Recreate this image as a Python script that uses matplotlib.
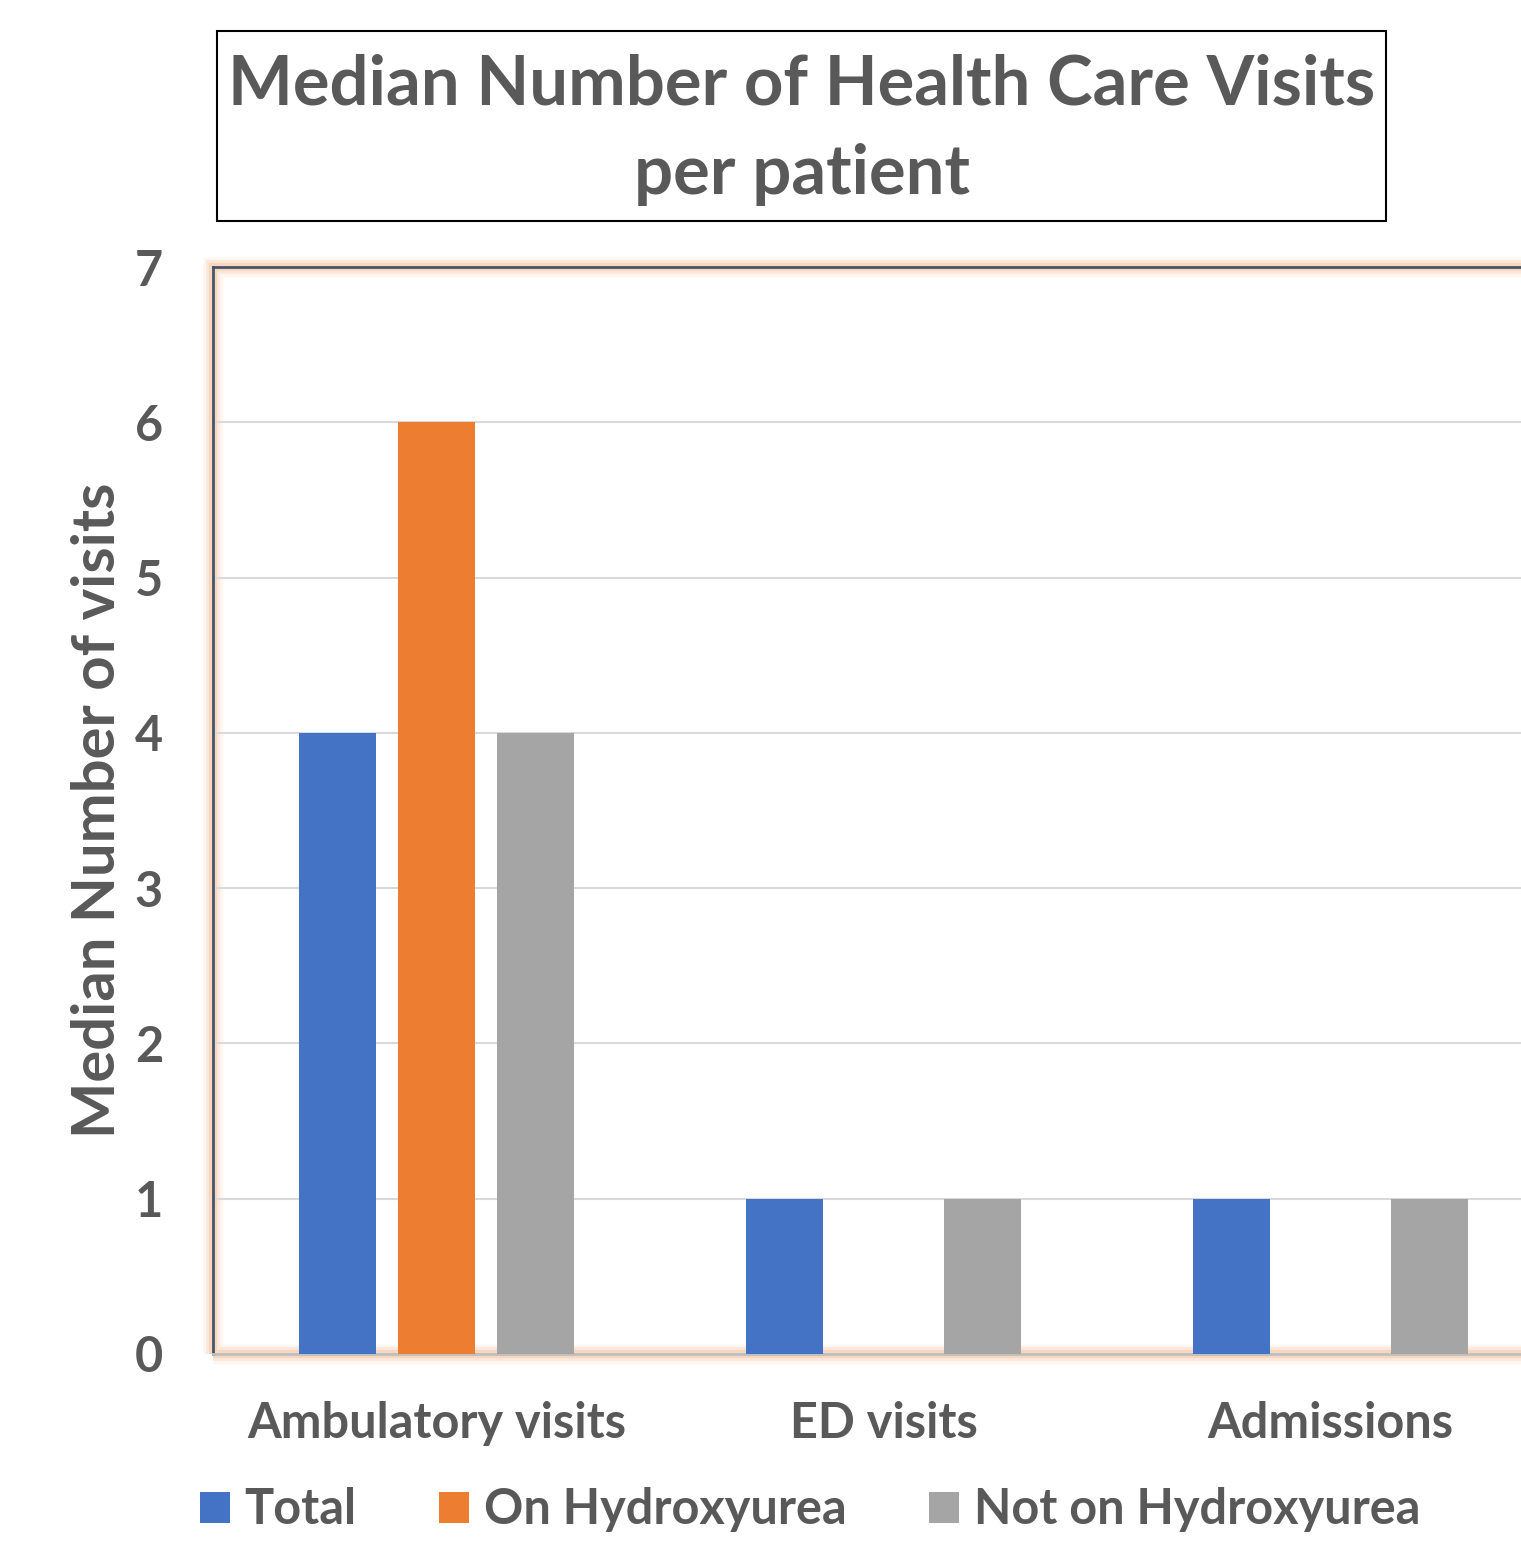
import matplotlib
matplotlib.use("Agg")
import matplotlib.pyplot as plt
import numpy as np
from matplotlib.patches import Rectangle

categories = ["Ambulatory visits", "ED visits", "Admissions"]
series_names = ["Total", "On Hydroxyurea", "Not on Hydroxyurea"]
total = [4, 1, 1]
on_hu = [6, 0, 0]
not_hu = [4, 1, 1]
yticks = [0, 1, 2, 3, 4, 5, 6, 7]

colors = ["#4472C4", "#ED7D31", "#A5A5A5"]
txt = "#595959"
plt.rcParams['font.family'] = ['Lato', 'DejaVu Sans']

fig = plt.figure(figsize=(15.21, 15.45), dpi=100)
ax = fig.add_axes([213/1521, 1-1354/1545, 1341/1521, (1354-267)/1545])

x = np.arange(len(categories))
w = 0.173
off = 0.221
for i, (vals, c, n) in enumerate(zip([total, on_hu, not_hu], colors, series_names)):
    ax.bar(x + (i-1)*off, vals, w, color=c, label=n, zorder=3)

ax.set_xlim(-0.5, 2.5)
ax.set_ylim(0, 7)
ax.set_yticks(yticks)
ax.set_yticklabels([str(t) for t in yticks], fontsize=35, fontweight='bold', color=txt)
ax.set_xticks(x)
ax.set_xticklabels(categories, fontsize=35, fontweight='bold', color=txt)
ax.tick_params(axis='both', length=0)
ax.tick_params(axis='y', pad=36)
ax.tick_params(axis='x', pad=34)
ax.yaxis.grid(True, color="#d9d9d9", linewidth=1.5, zorder=0)
ax.set_axisbelow(True)

for s in ['top', 'left']:
    ax.spines[s].set_color("#44546a")
    ax.spines[s].set_linewidth(2)
ax.spines['right'].set_visible(False)
ax.spines['bottom'].set_color("#bfbfbf")
ax.spines['bottom'].set_linewidth(2)

# orange glow around plot area
for lw, a in [(14, 0.12), (10, 0.18), (6, 0.3)]:
    r = Rectangle((0, 0), 1, 1, transform=ax.transAxes, fill=False,
                  edgecolor="#F4B183", linewidth=lw, alpha=a, clip_on=False, zorder=0.5)
    ax.add_patch(r)

ax.set_ylabel("Median Number of visits", fontsize=43, fontweight='bold', color=txt, labelpad=7)

# title box
fig.patches.append(Rectangle((217/1521, 1-221/1545), (1386-217)/1521, (221-31)/1545,
                             transform=fig.transFigure, fill=False, edgecolor='black', linewidth=1.5))
fig.text(802/1521, 1-85/1545, "Median Number of Health Care Visits", ha='center', va='center',
         fontsize=49.5, fontweight='bold', color=txt)
fig.text(802/1521, 1-175/1545, "per patient", ha='center', va='center',
         fontsize=49.5, fontweight='bold', color=txt)

leg = fig.legend(loc='center', bbox_to_anchor=(810/1521, 1-1510/1545), ncol=3, frameon=False,
                 fontsize=35, handlelength=0.62, handleheight=0.62, columnspacing=1.7, handletextpad=0.3)
for t in leg.get_texts():
    t.set_color(txt)
    t.set_fontweight('bold')

fig.savefig("out.png", dpi=100)
